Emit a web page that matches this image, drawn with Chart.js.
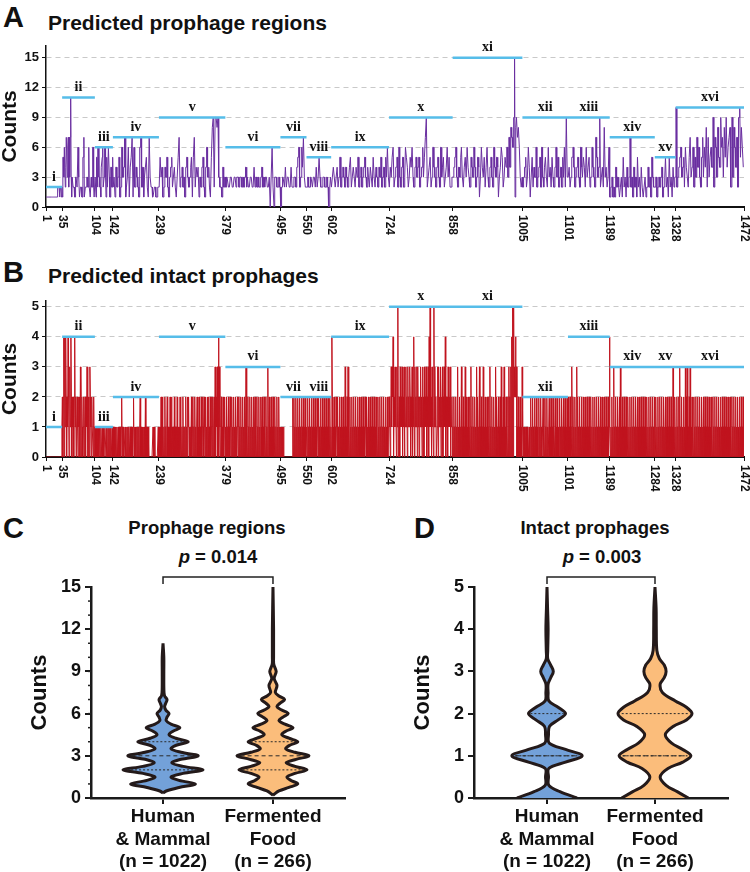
<!DOCTYPE html>
<html>
<head>
<meta charset="utf-8">
<script src="https://cdn.jsdelivr.net/npm/chart.js@4.4.0/dist/chart.umd.min.js"></script>
<style>
  body { margin: 0; width: 750px; height: 872px; background: #fff; position: relative; overflow: hidden;
         font-family: "Liberation Sans", Arial, sans-serif; color: #111; }
  canvas { position: absolute; }
  .lbl { position: absolute; font-weight: bold; white-space: nowrap; line-height: 1; }
  .letter { font-size: 29px; }
  .big { font-size: 21px; }
  .mid { font-size: 18.5px; text-align: center; width: 240px; }
</style>
</head>
<body>
<div class="lbl letter" style="left:3px;top:3px">A</div>
<div class="lbl big" style="left:48px;top:12px">Predicted prophage regions</div>
<div class="lbl letter" style="left:3px;top:258px">B</div>
<div class="lbl big" style="left:48px;top:265px">Predicted intact prophages</div>
<div class="lbl letter" style="left:3px;top:514px">C</div>
<div class="lbl mid" style="left:87px;top:519px">Prophage regions</div>
<div class="lbl mid" style="left:98px;top:548px"><i>p</i> = 0.014</div>
<div class="lbl letter" style="left:414px;top:514px">D</div>
<div class="lbl mid" style="left:475px;top:519px">Intact prophages</div>
<div class="lbl mid" style="left:482px;top:548px"><i>p</i> = 0.003</div>

<canvas id="regions" width="750" height="210" style="left:0;top:35px"></canvas>
<canvas id="intact" width="750" height="205" style="left:0;top:290px"></canvas>
<canvas id="regionViolin" width="375" height="302" style="left:0;top:570px"></canvas>
<canvas id="intactViolin" width="375" height="302" style="left:375px;top:570px"></canvas>

<script>
// genome positions marking the 16 blocks
const xTicks = [1, 35, 104, 142, 239, 379, 495, 550, 602, 724, 858, 1005, 1101, 1189, 1284, 1328, 1472]
const romans = ['i', 'ii', 'iii', 'iv', 'v', 'vi', 'vii', 'viii', 'ix', 'x', 'xi', 'xii', 'xiii', 'xiv', 'xv', 'xvi']

// counts per sample, one string per block (hex digit per sample)
const regionSegs = [
  "1111111111 1111111111 1111222212 2212",
  "1553662477 3672737b31 3322211333 2266311222 1155711222 3322622113 2266211",
  "3315526633 2214456223 6631552266 31144225",
  "2233114422 3355112266 3344771122 3366114455 7711662244 3322116677 2244113344 5522117733 2221111222 1111222",
  "2255334411 2244335522 1133445522 3344221133 5577223344 2233114455 3322334455 1155772244 3344113322 4455221144 6633442211 5588992299 9988993322 2211442233",
  "2233332222 3333222233 3322333322 3333223322 3344223322 2233332222 4422332233 2222334422 3322333322 2233003366 2200333322 223322",
  "0022333322 4422333322 2244222233 3322445566 2233664477 33222",
  "2233222233 3322333322 4422335533 2222333322 2233220022 33",
  "2233443322 3344223355 2233443322 4433223344 5522334433 2244335522 3344223344 5533224433 2244332255 3322443322 4433552233 4422553366 33",
  "2244335566 2233445522 6633224455 2233665544 2233554466 3322445533 4455223344 6633557799 2233445522 3366443322 4455332266 3344552233 4466335522 2233",
  "3344556633 2244335566 3322445533 6644332255 4433664422 3355441133 6644335522 4466332244 5533226644 3355441133 4466552233 5544663377 4488776699 f188997788 6633223",
  "2233445522 3366441133 5522443366 2233445522 6633224455 3322663344 2255332244 6633552233 4422553366 229933",
  "3344223355 6644223344 5533226644 3355442266 3344552233 6644332277 5533449922 3344228833 44223366",
  "1122331122 1144223322 1122331155 2233114422 3377223311 4422331155 2233114422 1122331122 4422331155 33222",
  "2233112233 2233441122 3355223311 5522331144 2233",
  "aa22334455 6633445522 6644332255 7733446622 5533774466 3322557733 6644882277 3355664499 2277663388 5544996677 3388559944 6677882299 3388664477 2299aa5588 6644"
]

const intactSegs = [
  "0000000000 0000000000 0000000000 0001",
  "2024041420 2142023142 0212024120 1210212032 0210120120 2130120032 102110201",
  "1010100101 1010010101 1001010101 01010010",
  "1010101010 0101010120 1010010101 0101001010 1012010100 1010101201 0100101020 1010100000 0000100100 0000010",
  "1010202010 1020101201 0102012010 1020101020 1010201010 2010102010 2120101020 1201020101 2010210102 0121021020 1021201020 1202012030 2130340310 1201020120",
  "1020102010 2102010201 0201021020 1020102010 2013010201 0201020102 0120102010 2010210201 0201020103 0120102010 2010201020 102010",
  "1010101000 0000000000 0000002020 1020102010 2010201020 10201",
  "1020102010 2010201020 1021020102 0102010201 0201020102 01",
  "0420102010 2102010201 0201020103 0102030102 0102010201 0201020102 0102010201 0210201020 1020102010 2010201020 1020102010 2010201020 12",
  "2101313240 2131203150 1203121302 1302131203 1213202130 2140312130 3120213120 3120312130 2130415120 3120513120 0130312130 2130213140 2120312130 2120",
  "1020102010 3010201030 1020103020 1020102030 1020102010 3020103010 2010301020 1020102030 1020102010 3020102010 2030102030 1020102030 2030405052 3242301020 1020103",
  "1010101010 1000100201 0201020102 0100201020 1002010201 0201002010 2010201002 0102010020 1020102010 201020",
  "2010201030 2010201030 2010201020 1020102010 2010201020 1020102010 2010201020 1020102010 20102014",
  "1010201030 1020102010 2030102010 2010201020 1020102010 2010201020 1020102010 2010201020 1020102010 20102",
  "1020102010 2010201020 1020102010 2010201030 1020",
  "1020102030 1020102010 3020301020 3010201020 1020102010 2010201020 1020102010 2010201020 1020102010 2010201020 1020102010 2010201020 1020102010 2010201020 1020"
]

// violin outlines: y levels and relative half widths (1 = widest bump in the panel)
const violinCats = [['Human', '& Mammal', '(n = 1022)'], ['Fermented', 'Food', '(n = 266)']]

const regionHumanY = [0.35, 0.5, 0.75, 1, 1.25, 1.5, 1.75, 2, 2.25, 2.5, 2.75, 3, 3.25, 3.5, 3.75, 4, 4.25, 4.5, 4.75, 5, 5.25, 5.5, 5.75, 6, 6.25, 6.5, 6.75, 7, 7.25, 7.5, 8, 9, 10, 11]
const regionHumanW = [0, 0.08, 0.4, 0.81, 0.4, 0.2, 0.5, 1.0, 0.5, 0.22, 0.45, 0.88, 0.45, 0.2, 0.33, 0.63, 0.32, 0.15, 0.25, 0.42, 0.2, 0.08, 0.1, 0.15, 0.07, 0.04, 0.07, 0.1, 0.04, 0.025, 0.02, 0.02, 0.02, 0]
const regionFoodY = [0.2, 0.5, 0.75, 1, 1.25, 1.5, 1.75, 2, 2.25, 2.5, 2.75, 3, 3.25, 3.5, 3.75, 4, 4.25, 4.5, 4.75, 5, 5.25, 5.5, 5.75, 6, 6.25, 6.5, 6.75, 7, 7.25, 7.5, 8, 8.5, 9, 9.5, 10, 12, 15]
const regionFoodW = [0, 0.15, 0.4, 0.62, 0.45, 0.35, 0.55, 0.85, 0.55, 0.33, 0.58, 0.9, 0.55, 0.32, 0.42, 0.62, 0.4, 0.22, 0.32, 0.5, 0.3, 0.15, 0.25, 0.38, 0.22, 0.1, 0.18, 0.29, 0.15, 0.06, 0.1, 0.03, 0.08, 0.02, 0.015, 0.015, 0]
const regionMedian = [3, 3]
const regionQuart = [[2, 4], [2, 4]]

const intactHumanY = [0, 0.15, 0.3, 0.5, 0.7, 0.85, 1, 1.15, 1.3, 1.5, 1.7, 1.85, 2, 2.15, 2.3, 2.5, 2.7, 2.85, 3, 3.15, 3.3, 3.5, 4, 4.5, 5]
const intactHumanW = [0.81, 0.35, 0.05, 0.04, 0.05, 0.5, 0.95, 0.5, 0.06, 0.04, 0.07, 0.3, 0.5, 0.3, 0.05, 0.03, 0.03, 0.1, 0.17, 0.1, 0.02, 0.02, 0.03, 0.015, 0]
const intactFoodY = [0, 0.15, 0.3, 0.5, 0.7, 0.85, 1, 1.15, 1.3, 1.5, 1.7, 1.85, 2, 2.15, 2.3, 2.5, 2.7, 2.85, 3, 3.15, 3.3, 3.5, 4, 4.5, 5]
const intactFoodW = [0.9, 0.6, 0.3, 0.14, 0.35, 0.75, 0.97, 0.75, 0.45, 0.28, 0.5, 0.85, 1.0, 0.85, 0.55, 0.2, 0.14, 0.25, 0.3, 0.25, 0.12, 0.05, 0.035, 0.03, 0]
const intactMedian = [1, 1]
const intactQuart = [[1, 2], [1, 2]]

Chart.defaults.font.family = '"Liberation Sans", Arial, sans-serif'
Chart.defaults.color = '#111'

function parseSeg(str) {
  return str.replace(/\s/g, '').split('').map(ch => parseInt(ch, 16))
}

// rotated block positions under the axis + roman numerals above the cyan bars
const segLabels = {
  id: 'segLabels',
  afterDraw(chart, args, opts) {
    const {ctx, scales: {x, y}} = chart
    ctx.save()
    ctx.fillStyle = '#111'
    ctx.font = 'bold 12px "Liberation Sans", Arial, sans-serif'
    ctx.textAlign = 'left'
    ctx.textBaseline = 'middle'
    xTicks.forEach(v => {
      ctx.save()
      ctx.translate(x.getPixelForValue(v), x.top + 8)
      ctx.rotate(Math.PI / 2)
      ctx.fillText(String(v), 0, 0)
      ctx.restore()
    })
    ctx.font = 'bold 14px "Liberation Serif", serif'
    ctx.textAlign = 'center'
    ctx.textBaseline = 'bottom'
    opts.maxes.forEach((m, k) => {
      let cx = x.getPixelForValue((xTicks[k] + xTicks[k + 1]) / 2)
      ctx.fillText(romans[k], cx, y.getPixelForValue(m) - 3)
    })
    ctx.restore()
  }
}

function lineChart(id, segs, color, yMax, step, pad) {
  let pts = [], maxes = [], caps = []
  segs.forEach((s, k) => {
    let vals = parseSeg(s), a = xTicks[k], b = xTicks[k + 1]
    vals.forEach((v, i) => pts.push({x: a + (i + 0.5) * (b - a) / vals.length, y: v}))
    let m = Math.max(...vals)
    maxes.push(m)
    caps.push({x: a, y: m}, {x: b, y: m}, {x: b, y: null})
  })

  new Chart(document.getElementById(id), {
    type: 'line',
    data: {
      datasets: [
        {data: caps, borderColor: '#56bde9', borderWidth: 2.5, pointRadius: 0, spanGaps: false, order: 0},
        {data: pts, borderColor: color, borderWidth: 1, pointRadius: 0, tension: 0, order: 1}
      ]
    },
    options: {
      responsive: false,
      devicePixelRatio: 1,
      animation: false,
      layout: {padding: pad},
      plugins: {legend: {display: false}, tooltip: {enabled: false}, segLabels: {maxes}},
      scales: {
        x: {
          type: 'linear', min: 1, max: 1472,
          afterBuildTicks: s => { s.ticks = xTicks.map(v => ({value: v})) },
          afterFit: s => { s.height = 38 },
          ticks: {display: false},
          grid: {drawOnChartArea: false, tickLength: 4, color: '#111'},
          border: {color: '#111', width: 2}
        },
        y: {
          min: 0, max: yMax,
          afterFit: s => { s.width = 46 },
          ticks: {stepSize: step, includeBounds: false, font: {size: 13, weight: 'bold'}, padding: 3},
          grid: {color: c => c.tick && c.tick.value === 0 ? 'rgba(0,0,0,0)' : '#c9c9c9', tickColor: '#111', tickLength: 4},
          border: {color: '#111', width: 1.5, dash: [5, 4]},
          title: {display: true, text: 'Counts', font: {size: 21, weight: 'bold', lineHeight: 1}, padding: 0}
        }
      }
    },
    plugins: [segLabels]
  })
}

lineChart('regions', regionSegs, '#6a2fa0', 16.2, 3, {top: 8, right: 6, left: 0, bottom: 0})
lineChart('intact', intactSegs, '#c0141f', 5.2, 1, {top: 10, right: 6, left: 0, bottom: 0})

// bracket over the two violins + minor ticks on the y axis
const bracket = {
  id: 'bracket',
  afterDraw(chart, args, opts) {
    const {ctx, chartArea, scales: {x, y}} = chart
    ctx.save()
    ctx.strokeStyle = '#222'
    ctx.lineWidth = 1.5
    let y0 = chartArea.top - 10, x1 = x.getPixelForValue(1), x2 = x.getPixelForValue(2)
    ctx.beginPath()
    ctx.moveTo(x1, y0 + 7); ctx.lineTo(x1, y0); ctx.lineTo(x2, y0); ctx.lineTo(x2, y0 + 7)
    ctx.stroke()
    if (opts.minor) {
      ctx.lineWidth = 1.5
      for (let v = 0; v <= y.max; v += opts.minor) {
        let py = y.getPixelForValue(v)
        ctx.beginPath(); ctx.moveTo(y.right - 3, py); ctx.lineTo(y.right, py); ctx.stroke()
      }
    }
    ctx.restore()
  }
}

function violinChart(id, violins, yMax, step, W, xMin, xMax, yWidth, pad, titlePad, minor) {
  let datasets = []
  violins.forEach((v, k) => {
    let c = k + 1
    let right = v.ys.map((y, i) => ({x: c + v.ws[i] * W, y}))
    let left = v.ys.map((y, i) => ({x: c - v.ws[i] * W, y})).reverse()
    datasets.push({
      data: right.concat(left), borderColor: '#241a1a', borderWidth: 3, backgroundColor: v.fill,
      fill: 'shape', pointRadius: 0, tension: 0.35, order: 2
    })
    let lines = v.quart.map(q => ({q, dash: [2, 2]})).concat([{q: v.median, dash: [4, 3]}])
    lines.forEach(l => {
      let hw = v.ws[v.ys.indexOf(l.q)] * W * 0.9
      datasets.push({
        data: [{x: c - hw, y: l.q}, {x: c + hw, y: l.q}], borderColor: '#2a2a2a', borderWidth: 1,
        borderDash: l.dash, pointRadius: 0, fill: false, order: 0
      })
    })
  })

  new Chart(document.getElementById(id), {
    type: 'line',
    data: {datasets},
    options: {
      responsive: false,
      devicePixelRatio: 1,
      animation: false,
      layout: {padding: pad},
      plugins: {legend: {display: false}, tooltip: {enabled: false}, bracket: {minor}},
      scales: {
        x: {
          type: 'linear', min: xMin, max: xMax,
          afterBuildTicks: s => { s.ticks = violinCats.map((c, i) => ({value: i + 1})) },
          afterFit: s => { s.height = 74 },
          ticks: {
            autoSkip: false, maxRotation: 0, padding: 2,
            font: {size: 19, weight: 'bold', lineHeight: 1.18},
            callback: v => violinCats[Math.round(v) - 1]
          },
          grid: {drawOnChartArea: false, tickLength: 6, color: '#1a1a1a', lineWidth: 2},
          border: {color: '#1a1a1a', width: 2.5}
        },
        y: {
          min: 0, max: yMax,
          afterFit: s => { s.width = yWidth },
          ticks: {stepSize: step, font: {size: 18, weight: 'bold'}, padding: 4},
          grid: {drawOnChartArea: false, tickLength: 6, color: '#1a1a1a', lineWidth: 2},
          border: {color: '#1a1a1a', width: 2.5},
          title: {display: true, text: 'Counts', font: {size: 22, weight: 'bold', lineHeight: 1}, padding: {top: titlePad, bottom: 0}}
        }
      }
    },
    plugins: [bracket]
  })
}

violinChart('regionViolin', [
  {ys: regionHumanY, ws: regionHumanW, fill: '#73a1d9', median: regionMedian[0], quart: regionQuart[0]},
  {ys: regionFoodY, ws: regionFoodW, fill: '#fbbd7b', median: regionMedian[1], quart: regionQuart[1]}
], 15, 3, 40 / 110, 0.345, 2.655, 91, {top: 17, right: 30, left: 0, bottom: 0}, 29, 1)

violinChart('intactViolin', [
  {ys: intactHumanY, ws: intactHumanW, fill: '#73a1d9', median: intactMedian[0], quart: intactQuart[0]},
  {ys: intactFoodY, ws: intactFoodW, fill: '#fbbd7b', median: intactMedian[1], quart: intactQuart[1]}
], 5, 1, 37 / 108, 0.324, 2.676, 99, {top: 17, right: 22, left: 0, bottom: 0}, 37, 0)
</script>
</body>
</html>
